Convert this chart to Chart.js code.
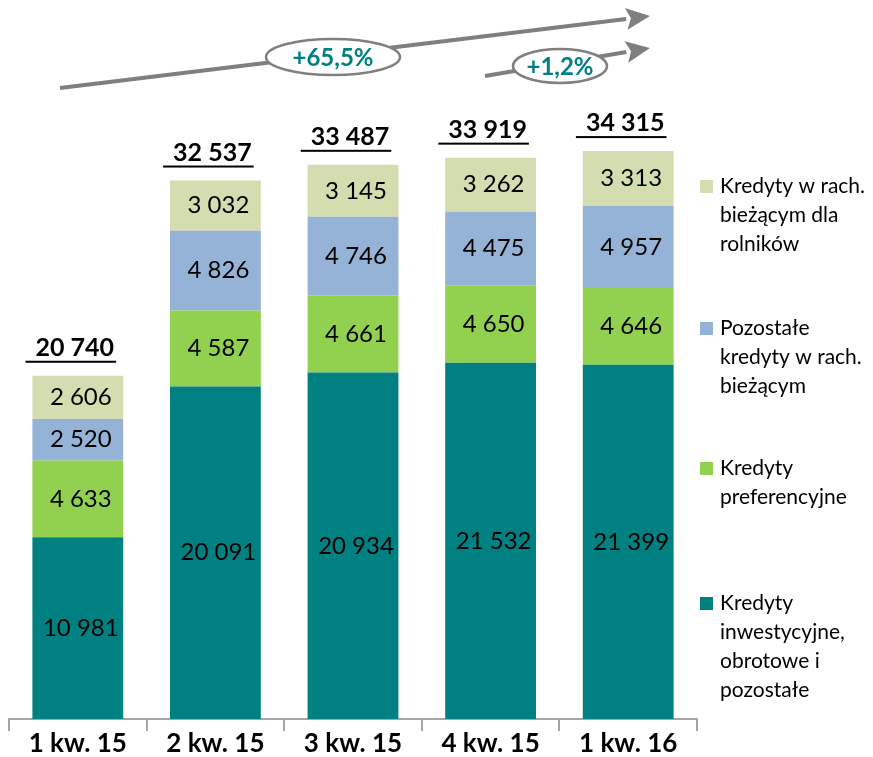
<!DOCTYPE html>
<html>
<head>
<meta charset="utf-8">
<script src="https://cdn.jsdelivr.net/npm/chart.js@4.4.0/dist/chart.umd.min.js"></script>
<style>
  body { margin: 0; background: #fff; }
  #wrap { width: 873px; height: 757px; }
</style>
</head>
<body>
<div id="wrap"><canvas id="c"></canvas></div>
<script>
var categories = ['1 kw. 15', '2 kw. 15', '3 kw. 15', '4 kw. 15', '1 kw. 16'];
var investycyjne = [10981, 20091, 20934, 21532, 21399];
var preferencyjne = [4633, 4587, 4661, 4650, 4646];
var pozostaleRach = [2520, 4826, 4746, 4475, 4957];
var rolnicy = [2606, 3032, 3145, 3262, 3313];
var totals = [20740, 32537, 33487, 33919, 34315];

var FONT = 'Lato';

function fmt(v) {
    return String(v).replace(/\B(?=(\d{3})+(?!\d))/g, ' ');
}

// value labels inside bars + totals on top
var labelsPlugin = {
    id: 'labels',
    afterDatasetsDraw: function (chart) {
        var ctx = chart.ctx;
        ctx.save();
        ctx.textAlign = 'center';
        ctx.textBaseline = 'middle';
        ctx.fillStyle = '#000';
        ctx.font = '24px ' + FONT;
        chart.data.datasets.forEach(function (ds, i) {
            var meta = chart.getDatasetMeta(i);
            meta.data.forEach(function (bar, j) {
                var y = (bar.y + bar.base) / 2;
                ctx.fillText(fmt(ds.data[j]), bar.x + 3, y);
            });
        });
        var top = chart.getDatasetMeta(chart.data.datasets.length - 1);
        ctx.font = 'bold 25px ' + FONT;
        top.data.forEach(function (bar, j) {
            var txt = fmt(totals[j]);
            var y = bar.y - 28;
            var w = ctx.measureText(txt).width;
            var cx = bar.x - 3;
            ctx.fillText(txt, cx, y);
            ctx.fillRect(cx - w / 2 - 10, y + 13, w + 12, 2);
        });
        ctx.restore();
    }
};

var legendLines = [
    ['Kredyty w rach.', 'bieżącym dla', 'rolników'],
    ['Pozostałe', 'kredyty w rach.', 'bieżącym'],
    ['Kredyty', 'preferencyjne'],
    ['Kredyty', 'inwestycyjne,', 'obrotowe i', 'pozostałe']
];

var legendPlugin = {
    id: 'sideLegend',
    afterDraw: function (chart) {
        var ctx = chart.ctx;
        var n = chart.data.datasets.length;
        var starts = [186, 328, 468, 603];
        ctx.save();
        ctx.font = '21px ' + FONT;
        ctx.textBaseline = 'middle';
        ctx.textAlign = 'left';
        for (var k = 0; k < n; k++) {
            var ds = chart.data.datasets[n - 1 - k];
            var y0 = starts[k];
            ctx.fillStyle = ds.backgroundColor;
            ctx.fillRect(700, y0 - 6, 13, 13);
            ctx.fillStyle = '#000';
            legendLines[k].forEach(function (line, li) {
                ctx.fillText(line, 720, y0 + li * 29);
            });
        }
        ctx.restore();
    }
};

function arrow(ctx, x1, y1, x2, y2) {
    var a = Math.atan2(y2 - y1, x2 - x1);
    var hl = 24, hw = 11;
    ctx.beginPath();
    ctx.moveTo(x1, y1);
    ctx.lineTo(x2 - hl * Math.cos(a), y2 - hl * Math.sin(a));
    ctx.stroke();
    ctx.beginPath();
    ctx.moveTo(x2, y2);
    ctx.lineTo(x2 - hl * Math.cos(a) + hw * Math.sin(a), y2 - hl * Math.sin(a) - hw * Math.cos(a));
    ctx.lineTo(x2 - hl * Math.cos(a) * 0.8, y2 - hl * Math.sin(a) * 0.8);
    ctx.lineTo(x2 - hl * Math.cos(a) - hw * Math.sin(a), y2 - hl * Math.sin(a) + hw * Math.cos(a));
    ctx.closePath();
    ctx.fill();
}

function bubble(ctx, cx, cy, rx, ry, txt) {
    ctx.beginPath();
    ctx.ellipse(cx, cy, rx, ry, 0, 0, Math.PI * 2);
    ctx.fillStyle = '#fff';
    ctx.fill();
    ctx.lineWidth = 2.5;
    ctx.stroke();
    ctx.fillStyle = '#008080';
    ctx.font = 'bold 24px ' + FONT;
    ctx.textAlign = 'center';
    ctx.textBaseline = 'middle';
    ctx.fillText(txt, cx, cy + 1);
    ctx.fillStyle = '#7f7f7f';
}

var growthPlugin = {
    id: 'growth',
    afterDraw: function (chart) {
        var ctx = chart.ctx;
        ctx.save();
        ctx.strokeStyle = '#7f7f7f';
        ctx.fillStyle = '#7f7f7f';
        ctx.lineWidth = 4;
        arrow(ctx, 60, 88, 650, 16);
        arrow(ctx, 485, 76, 650, 48);
        bubble(ctx, 333, 57, 67, 18, '+65,5%');
        bubble(ctx, 560, 66, 47, 17, '+1,2%');
        ctx.restore();
    }
};

new Chart(document.getElementById('c'), {
    type: 'bar',
    data: {
        labels: categories,
        datasets: [
            { label: 'Kredyty inwestycyjne, obrotowe i pozostałe', data: investycyjne, backgroundColor: '#008080' },
            { label: 'Kredyty preferencyjne', data: preferencyjne, backgroundColor: '#92d050' },
            { label: 'Pozostałe kredyty w rach. bieżącym', data: pozostaleRach, backgroundColor: '#95b3d7' },
            { label: 'Kredyty w rach. bieżącym dla rolników', data: rolnicy, backgroundColor: '#d3ddaf' }
        ]
    },
    options: {
        responsive: true,
        maintainAspectRatio: false,
        animation: false,
        layout: { padding: { top: 57, left: 9, right: 176, bottom: 0 } },
        datasets: { bar: { barPercentage: 0.66, categoryPercentage: 1 } },
        plugins: {
            legend: { display: false },
            tooltip: { enabled: false }
        },
        scales: {
            x: {
                stacked: true,
                grid: { drawOnChartArea: false, drawTicks: true, tickLength: 12, color: '#a6a6a6', lineWidth: 2 },
                border: { display: true, color: '#a6a6a6', width: 2 },
                ticks: { color: '#000', font: { family: FONT, size: 26, weight: 'bold', lineHeight: 1 }, padding: 0 }
            },
            y: {
                stacked: true,
                display: false,
                min: 0,
                max: 40000
            }
        }
    },
    plugins: [labelsPlugin, legendPlugin, growthPlugin]
});
</script>
</body>
</html>
